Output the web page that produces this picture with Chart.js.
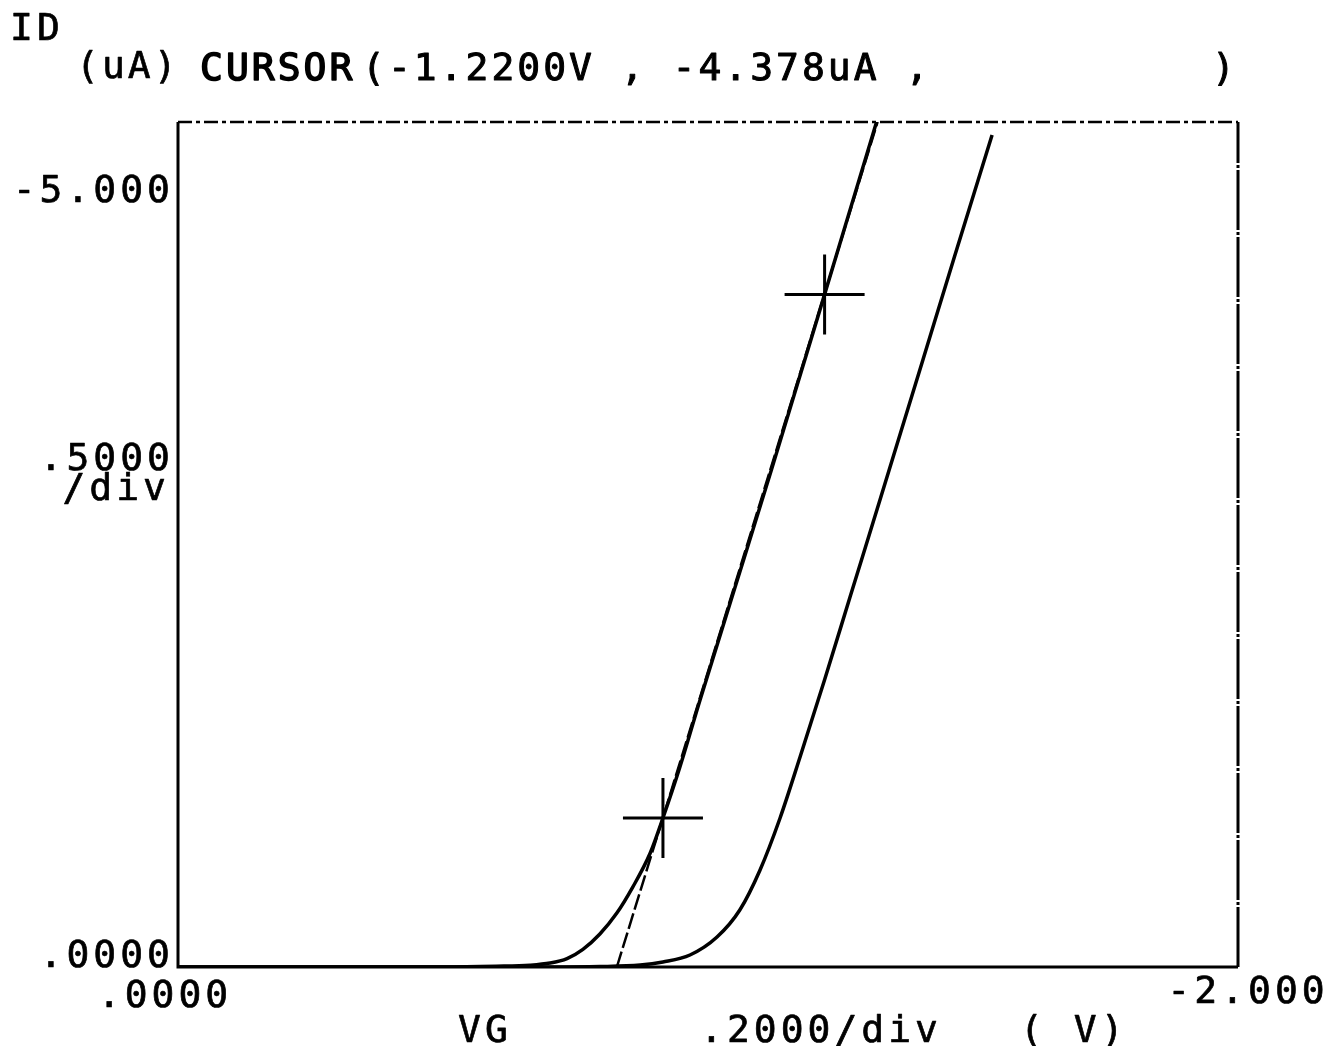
<!DOCTYPE html>
<html>
<head>
<meta charset="utf-8">
<title>ID - VG</title>
<script src="https://cdn.jsdelivr.net/npm/chart.js@4.4.1/dist/chart.umd.min.js"></script>
<style>
  html, body { margin: 0; padding: 0; background: #fff; }
  #wrap { width: 1332px; height: 1046px; }
</style>
</head>
<body>
<div id="wrap"><canvas id="myChart" width="1332" height="1046"></canvas></div>
<script>
// measured curve (left)
var vg1 = [0, -0.2, -0.4, -0.5, -0.6, -0.664, -0.702, -0.734, -0.764, -0.796, -0.828, -0.858, -0.891, -0.915, -0.947, -0.985, -1.05, -1.12, -1.22, -1.318];
var id1 = [0, 0, 0, 0, -0.005, -0.012, -0.026, -0.055, -0.115, -0.215, -0.351, -0.520, -0.742, -0.970, -1.302, -1.738, -2.46, -3.24, -4.378, -5.5];

// second curve (right)
var vg2 = [0, -0.4, -0.7, -0.796, -0.872, -0.915, -0.966, -1.017, -1.06, -1.098, -1.136, -1.174, -1.22, -1.268, -1.325, -1.406, -1.466, -1.536];
var id2 = [0, 0, 0, -0.003, -0.013, -0.033, -0.078, -0.195, -0.371, -0.63, -0.97, -1.37, -1.87, -2.408, -3.046, -3.957, -4.634, -5.415];

// line through the two cursors
var tanVg = [-0.828, -1.320];
var tanId = [0, -5.5];

// cursor marks
var curVg = [-0.915, -1.22];
var curId = [-0.970, -4.378];

// axis labels
var yTickVals = [-5, 0];
var yTickText = ['-5.000', '.0000'];
var xTickVals = [0, -2];
var xTickText = ['.0000', '-2.000'];

function pts(xs, ys) {
    return xs.map(function (v, i) { return { x: v, y: ys[i] }; });
}

var FONT = '38px "DejaVu Sans Mono", monospace';

// frame + all the plotter text
var plotterText = {
    id: 'plotterText',
    afterDraw: function (chart) {
        var ctx = chart.ctx;
        var a = chart.chartArea;
        var xs = chart.scales.x, ys = chart.scales.y;
        ctx.save();
        ctx.strokeStyle = '#000';
        ctx.lineWidth = 3;
        // left + bottom solid
        ctx.setLineDash([]);
        ctx.beginPath();
        ctx.moveTo(a.left, a.top);
        ctx.lineTo(a.left, a.bottom);
        ctx.lineTo(a.right, a.bottom);
        ctx.stroke();
        // right edge, mostly solid
        ctx.setLineDash([60, 2, 3, 2]);
        ctx.beginPath();
        ctx.moveTo(a.right, a.bottom);
        ctx.lineTo(a.right, a.top);
        ctx.stroke();
        // top edge dash-dot
        ctx.lineWidth = 2.5;
        ctx.setLineDash([14, 4, 4, 4]);
        ctx.beginPath();
        ctx.moveTo(a.left, a.top);
        ctx.lineTo(a.right, a.top);
        ctx.stroke();
        ctx.setLineDash([]);

        ctx.fillStyle = '#000';
        ctx.strokeStyle = '#000';
        ctx.lineWidth = 0.7;
        ctx.lineJoin = 'round';
        ctx.font = FONT;
        ctx.textBaseline = 'alphabetic';
        ctx.letterSpacing = '4px';

        function txt(s, x, y) {
            ctx.fillText(s, x, y);
            ctx.strokeText(s, x, y);
        }
        function txtR(s, right, y) {
            var w = ctx.measureText(s).width - 4;
            txt(s, right - w, y);
        }
        function txtC(s, cx, y) {
            var w = ctx.measureText(s).width - 4;
            txt(s, cx - w / 2, y);
        }

        // y tick labels
        txtR(yTickText[0], a.left - 8, ys.getPixelForValue(yTickVals[0]) + 3);
        txtR(yTickText[1], a.left - 8, ys.getPixelForValue(yTickVals[1]));
        txtR('.5000', a.left - 8, 470);
        txtR('/div', a.left - 12, 500);

        // x tick labels
        txtC(xTickText[0], xs.getPixelForValue(xTickVals[0]) - 15, 1007);
        txtC(xTickText[1], xs.getPixelForValue(xTickVals[1]) + 8, 1003);
        txt('VG', 458, 1042);
        txt('.2000/div', 700, 1042);
        txt('( V)', 1020, 1042);

        // header
        txt('ID', 10, 40);
        ctx.letterSpacing = '3px';
        txt('(uA)', 76, 78);
        ctx.lineWidth = 1.6;
        txt('CURSOR', 200, 80);
        ctx.lineWidth = 1.0;
        txt('(-1.2200V , -4.378uA ,', 362, 80);
        txt(')', 1212, 80);
        ctx.restore();
    }
};

var ctx = document.getElementById('myChart');
var myChart = new Chart(ctx, {
    type: 'line',
    data: {
        datasets: [
            {
                label: 'ID 1',
                data: pts(vg1, id1),
                borderColor: '#000',
                borderWidth: 3.5,
                pointRadius: 0,
                cubicInterpolationMode: 'monotone',
                fill: false
            },
            {
                label: 'ID 2',
                data: pts(vg2, id2),
                borderColor: '#000',
                borderWidth: 3.5,
                pointRadius: 0,
                cubicInterpolationMode: 'monotone',
                fill: false
            },
            {
                label: 'line',
                data: pts(tanVg, tanId),
                borderColor: '#000',
                borderWidth: 2.5,
                borderDash: [16, 4],
                pointRadius: 0,
                fill: false
            },
            {
                label: 'cursor',
                data: pts(curVg, curId),
                showLine: false,
                pointStyle: 'cross',
                pointRadius: 40,
                pointBorderWidth: 3,
                pointBorderColor: '#000',
                borderColor: '#000'
            }
        ]
    },
    options: {
        responsive: false,
        animation: false,
        layout: { padding: { left: 178, right: 94, top: 122, bottom: 79 } },
        scales: {
            x: { type: 'linear', min: -2, max: 0, reverse: true, display: false },
            y: { type: 'linear', min: -5.5, max: 0, reverse: true, display: false }
        },
        plugins: {
            legend: { display: false },
            tooltip: { enabled: false }
        }
    },
    plugins: [plotterText]
});
</script>
</body>
</html>
